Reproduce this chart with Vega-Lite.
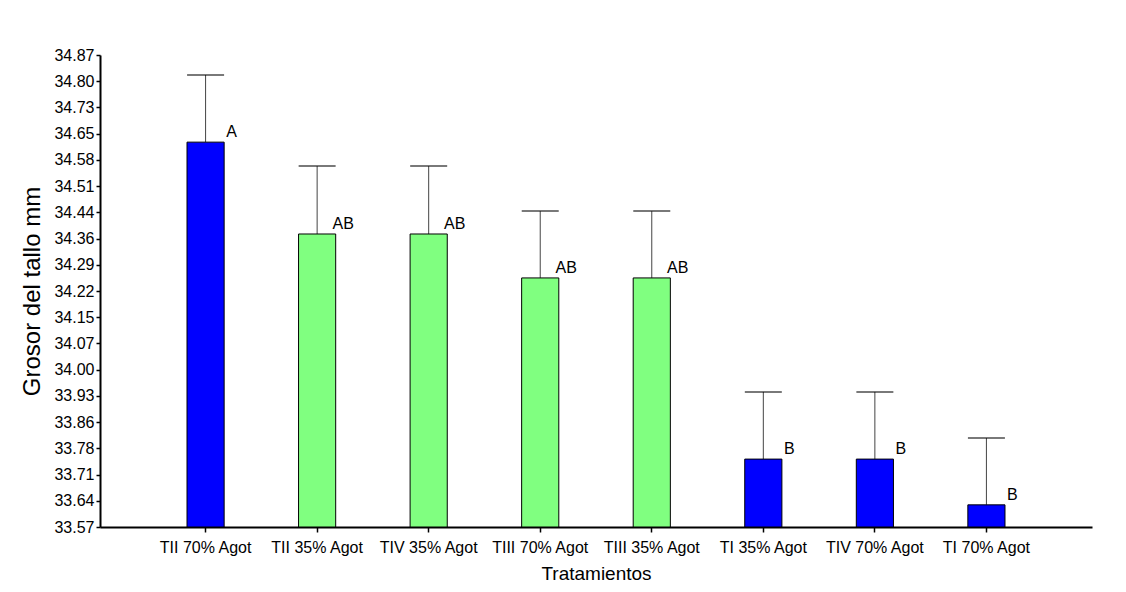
{
  "$schema": "https://vega.github.io/schema/vega-lite/v6.json",
  "width": 992,
  "height": 472,
  "autosize": "none",
  "padding": {"left": 100, "top": 55, "right": 34, "bottom": 65},
  "background": "white",
  "config": {
    "view": {"stroke": null},
    "font": "Liberation Sans",
    "axisY": {
      "labelFontSize": 16,
      "labelColor": "black",
      "labelPadding": 2,
      "labelFlush": false,
      "labelOverlap": false,
      "titleFontSize": 24,
      "titleFontWeight": "normal",
      "titleColor": "black",
      "titlePadding": 9,
      "domainColor": "black",
      "domainWidth": 2,
      "tickColor": "black",
      "tickSize": 4,
      "tickWidth": 1.5,
      "grid": false
    }
  },
  "data": {
    "values": [
      {"trat": "TII 70% Agot", "grosor": 34.63, "sup": 34.815, "letra": "A", "grupo": "azul"},
      {"trat": "TII 35% Agot", "grosor": 34.377, "sup": 34.564, "letra": "AB", "grupo": "verde"},
      {"trat": "TIV 35% Agot", "grosor": 34.377, "sup": 34.564, "letra": "AB", "grupo": "verde"},
      {"trat": "TIII 70% Agot", "grosor": 34.256, "sup": 34.44, "letra": "AB", "grupo": "verde"},
      {"trat": "TIII 35% Agot", "grosor": 34.256, "sup": 34.44, "letra": "AB", "grupo": "verde"},
      {"trat": "TI 35% Agot", "grosor": 33.757, "sup": 33.942, "letra": "B", "grupo": "azul"},
      {"trat": "TIV 70% Agot", "grosor": 33.757, "sup": 33.942, "letra": "B", "grupo": "azul"},
      {"trat": "TI 70% Agot", "grosor": 33.631, "sup": 33.815, "letra": "B", "grupo": "azul"}
    ]
  },
  "encoding": {
    "x": {
      "field": "trat",
      "type": "nominal",
      "sort": null,
      "scale": {"paddingInner": 0.667, "paddingOuter": 0.78},
      "axis": {
        "title": "Tratamientos",
        "labelAngle": 0,
        "labelFontSize": 16,
        "labelColor": "black",
        "labelPadding": 7,
        "titleFontSize": 19,
        "titleFontWeight": "normal",
        "titleColor": "black",
        "titlePadding": 9,
        "domainColor": "black",
        "domainWidth": 2,
        "tickColor": "black",
        "tickSize": 5,
        "tickWidth": 1.5
      }
    },
    "y": {
      "field": "grosor",
      "type": "quantitative",
      "scale": {"domain": [33.57, 34.87], "zero": false, "nice": false},
      "axis": {
        "title": "Grosor del tallo mm",
        "values": [33.57, 33.64222, 33.71444, 33.78667, 33.85889, 33.93111, 34.00333, 34.07556, 34.14778, 34.22, 34.29222, 34.36444, 34.43667, 34.50889, 34.58111, 34.65333, 34.72556, 34.79778, 34.87],
        "labelExpr": "['33.57','33.64','33.71','33.78','33.86','33.93','34.00','34.07','34.15','34.22','34.29','34.36','34.44','34.51','34.58','34.65','34.73','34.80','34.87'][round((datum.value-33.57)/0.0722222)]"
      }
    }
  },
  "layer": [
    {
      "mark": {"type": "rule", "color": "#444444", "strokeWidth": 1},
      "encoding": {
        "y2": {"field": "sup"}
      }
    },
    {
      "mark": {"type": "tick", "color": "black", "size": 37, "thickness": 1.5},
      "encoding": {
        "y": {
          "field": "sup",
          "type": "quantitative",
          "scale": {"domain": [33.57, 34.87], "zero": false, "nice": false},
          "axis": {
            "title": "Grosor del tallo mm",
            "values": [33.57, 33.64222, 33.71444, 33.78667, 33.85889, 33.93111, 34.00333, 34.07556, 34.14778, 34.22, 34.29222, 34.36444, 34.43667, 34.50889, 34.58111, 34.65333, 34.72556, 34.79778, 34.87],
            "labelExpr": "['33.57','33.64','33.71','33.78','33.86','33.93','34.00','34.07','34.15','34.22','34.29','34.36','34.44','34.51','34.58','34.65','34.73','34.80','34.87'][round((datum.value-33.57)/0.0722222)]"
          }
        }
      }
    },
    {
      "mark": {"type": "bar", "stroke": "black", "strokeWidth": 1},
      "encoding": {
        "y2": {"datum": 33.57},
        "color": {
          "field": "grupo",
          "type": "nominal",
          "scale": {"domain": ["azul", "verde"], "range": ["#0000FF", "#80FF80"]},
          "legend": null
        }
      }
    },
    {
      "mark": {"type": "text", "align": "center", "baseline": "bottom", "dx": 26, "dy": -2, "fontSize": 16, "color": "black"},
      "encoding": {
        "text": {"field": "letra"}
      }
    }
  ]
}
